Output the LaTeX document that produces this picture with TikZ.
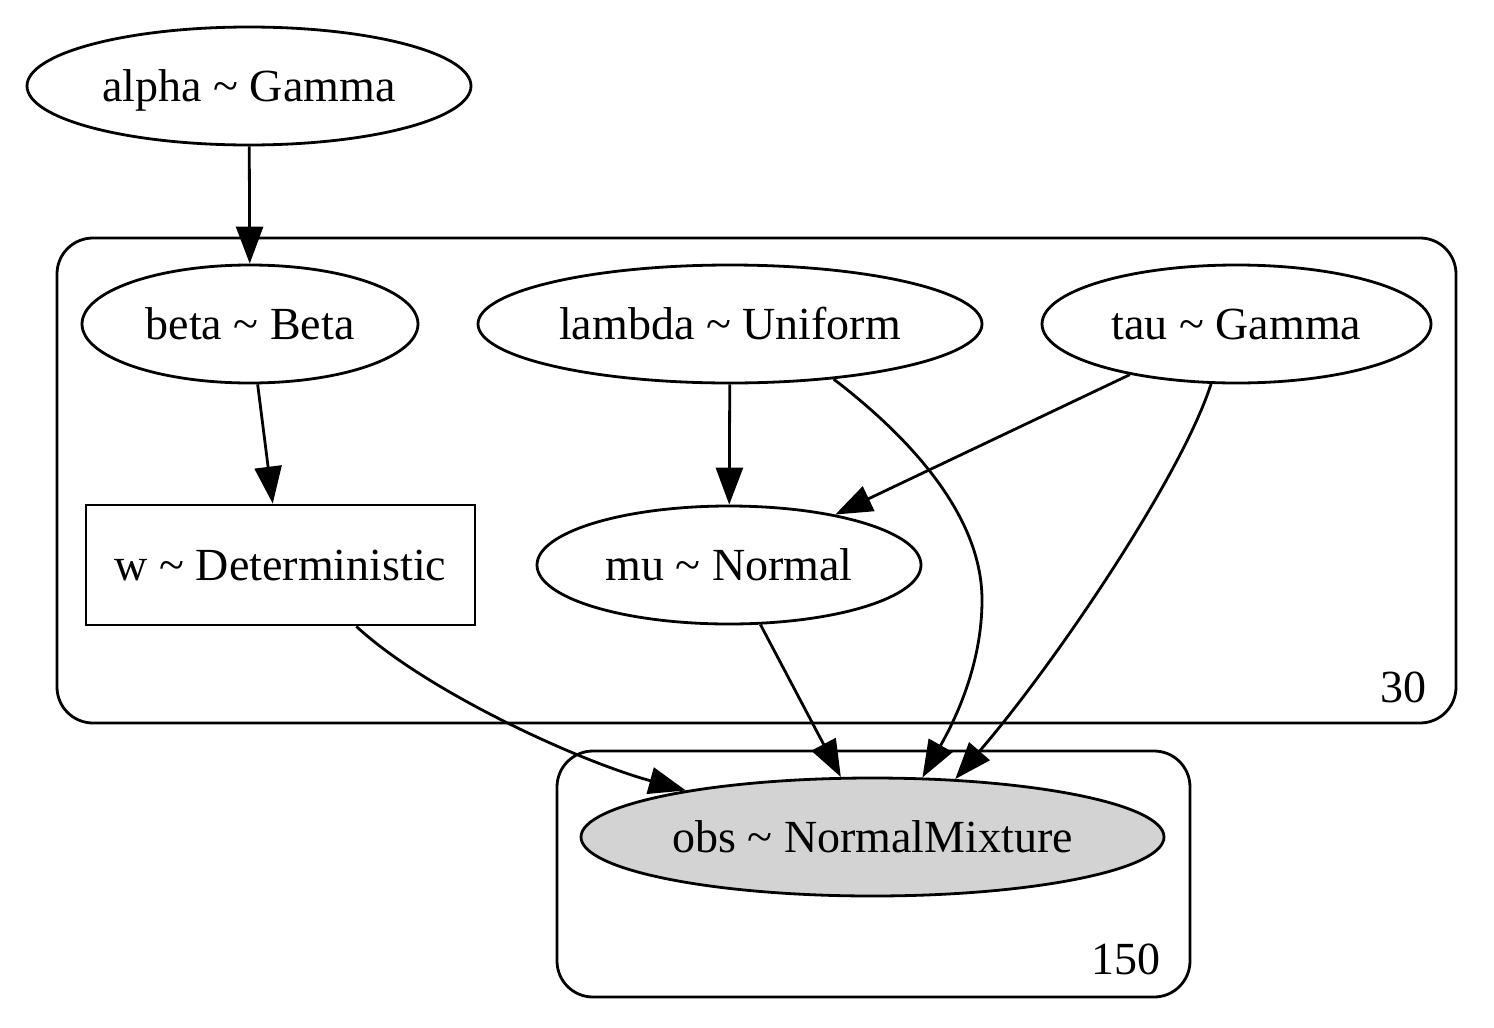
\documentclass[tikz,border=0pt]{standalone}
\usepackage{fontspec}
\setmainfont{Liberation Serif}
\usetikzlibrary{arrows.meta,shapes.geometric}
\definecolor{obsgray}{HTML}{D3D3D3}
\begin{document}
\begin{tikzpicture}[x=1pt,y=-1pt,
  every node/.style={font=\fontsize{46}{52}\selectfont, inner sep=0pt, line width=2.8pt},
  rv/.style={draw, ellipse, minimum height=118pt, text height=33pt, text depth=3pt},
  detbox/.style={draw, rectangle, minimum width=389pt, minimum height=120pt, text height=33pt, text depth=3pt},
  plate/.style={draw, line width=2.8pt, rounded corners=36pt},
  edge/.style={draw, line width=2.8pt, -{Triangle[length=37pt,width=27pt]}},
  platelabel/.style={anchor=base east}]
\useasboundingbox (0,0) rectangle (1494,1028);
% plates
\draw[plate] (57,238) rectangle (1456,723);
\draw[plate] (557,751) rectangle (1190,997);
\node[platelabel] (lab30) at (1428,702) {30};
\node[platelabel] (lab150) at (1162,974) {150};
% nodes
\node[rv, minimum width=444pt] (alpha) at (249,86) {alpha \textasciitilde{} Gamma};
\node[rv, minimum width=336pt] (beta) at (250,324) {beta \textasciitilde{} Beta};
\node[rv, minimum width=504pt] (lambda) at (730,324) {lambda \textasciitilde{} Uniform};
\node[rv, minimum width=389pt] (tau) at (1236.5,324) {tau \textasciitilde{} Gamma};
\node[detbox] (w) at (280.5,565) {w \textasciitilde{} Deterministic};
\node[rv, minimum width=384pt] (mu) at (729,565) {mu \textasciitilde{} Normal};
\node[rv, minimum width=583pt, fill=obsgray] (obs) at (872.5,837) {obs \textasciitilde{} NormalMixture};
% edges
\draw[edge] (alpha) -- (beta);
\draw[edge] (beta) -- (w);
\draw[edge] (lambda) -- (mu);
\draw[edge] (tau) -- (mu);
\draw[edge] (mu) -- (obs);
\coordinate (lmid) at (982,600);
\draw[edge] (lambda.-28) .. controls (900,430) and (982,510) .. (lmid)
   .. controls (982,665) and (955,720) .. (obs.50);
\draw[edge] (tau.247) .. controls (1180,480) and (1050,670) .. (obs.35);
\draw[edge] (w.-39.6) .. controls (425,690) and (575,760) .. (obs.166);
\end{tikzpicture}
\end{document}
